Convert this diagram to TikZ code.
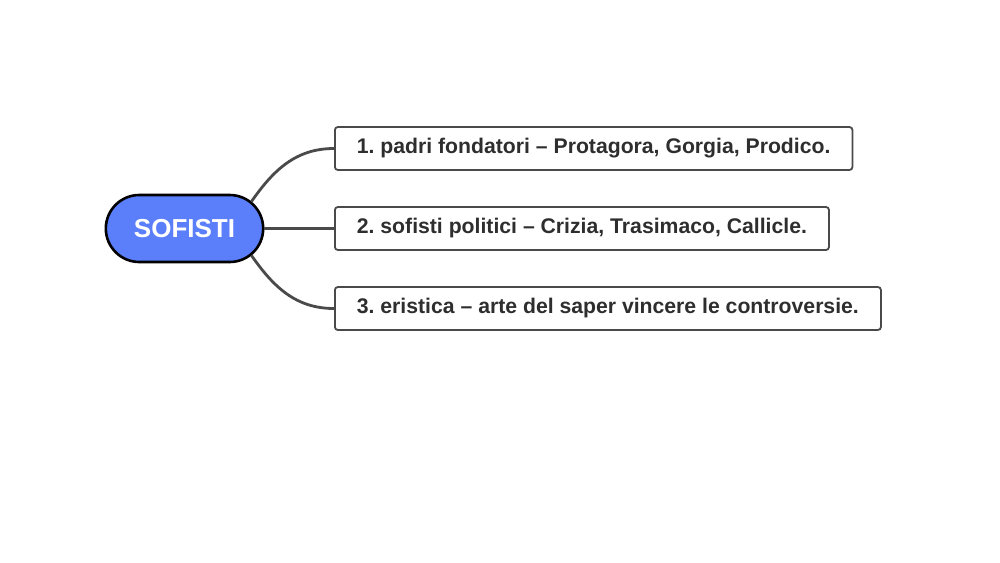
\documentclass[tikz,border=0pt]{standalone}
\usepackage{fontspec}
\setmainfont{Liberation Sans}
\usetikzlibrary{shapes.misc}
\frenchspacing
\definecolor{hubblue}{HTML}{5B7FFB}
\definecolor{linegrey}{HTML}{4A4A4A}
\tikzset{
  hub/.style = {rounded rectangle, draw = black, line width = 2.6pt, fill = hubblue,
    minimum width = 164pt, minimum height = 67pt, text = white,
    font = \fontsize{26}{30}\selectfont\bfseries},
  topic/.style = {rectangle, rounded corners = 3pt, draw = linegrey, line width = 1.8pt,
    fill = white, anchor = west, minimum height = 43pt, inner xsep = 22pt,
    text = black!82, font = \fontsize{21.2}{24}\selectfont\bfseries},
  branch/.style = {draw = linegrey, line width = 2.8pt}
}
\begin{document}
\begin{tikzpicture}[x = 1pt, y = -1pt]
\useasboundingbox (0, 0) rectangle (1000, 562);
% centre
\node[hub] (sofisti) at (184.5, 228.5) {SOFISTI};
% branches
\node[topic] (padri) at (334, 148.5) {1. padri fondatori – Protagora, Gorgia, Prodico.};
\node[topic] (politici) at (334, 228.5) {2. sofisti politici – Crizia, Trasimaco, Callicle.};
\node[topic] (eristica) at (334, 308.5) {3. eristica – arte del saper vincere le controversie.};
\draw[branch] (sofisti.22) to[out = 55, in = 180] (padri.west);
\draw[branch] (sofisti.east) -- (politici.west);
\draw[branch] (sofisti.-22) to[out = -55, in = 180] (eristica.west);
\end{tikzpicture}
\end{document}
